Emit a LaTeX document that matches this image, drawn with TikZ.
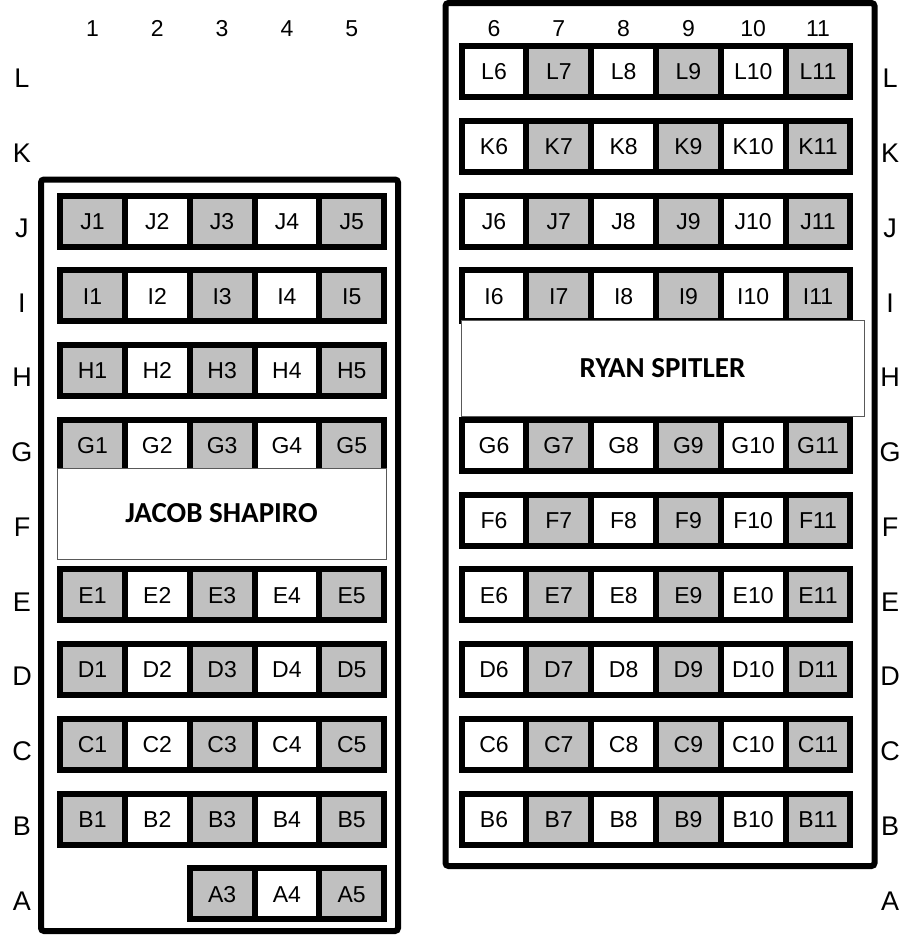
\documentclass[tikz,border=0pt]{standalone}
\usepackage{fontspec}
\setmainfont{Liberation Sans}
\newfontfamily\namefont{Carlito}
\usepackage{xcolor}
\definecolor{seatgray}{RGB}{192, 192, 192}
\usetikzlibrary{positioning}

\begin{document}
\begin{tikzpicture}[x=1pt, y=-1pt,
        seat/.style={rectangle, draw=black, line width=6pt, minimum width=64.8pt, minimum height=51pt, inner sep=0pt, text height=16.5pt, text depth=0pt, font=\fontsize{23}{23}\selectfont},
        section/.style={draw=black, line width=6pt, rounded corners=3pt},
        rowlabel/.style={inner sep=0pt, font=\fontsize{27}{27}\selectfont},
        collabel/.style={inner sep=0pt, font=\fontsize{23}{23}\selectfont},
        namebox/.style={rectangle, draw=black!65, fill=white, line width=1pt, inner sep=0pt, font=\namefont\bfseries\fontsize{29}{29}\selectfont}]

    \useasboundingbox (0,0) rectangle (908,940);

    % Secciones
    \draw[section] (41,179.5) rectangle (398,931);
    \draw[section] (445.5,3) rectangle (874.5,866);

    % Etiquetas de filas (izquierda y derecha)
    \foreach \r/\k in {L/0, K/1, J/2, I/3, H/4, G/5, F/6, E/7, D/8, C/9, B/10, A/11} {
        \node[rowlabel] (left\r) at (22, 78.5+74.75*\k) {\r};
        \node[rowlabel] (right\r) at (890, 78.5+74.75*\k) {\r};
    }

    % Etiquetas de columnas
    \foreach \c in {1,...,5}
        \node[collabel] (col\c) at (92.5+64.8*\c-64.8, 28.5) {\c};
    \foreach \c in {6,...,11}
        \node[collabel] (col\c) at (494+64.8*\c-388.8, 28.5) {\c};

    % Bloque izquierdo
    \foreach \r/\k in {J/2, I/3, H/4, G/5, E/7, D/8, C/9, B/10}
        \foreach \c/\f in {1/seatgray, 2/white, 3/seatgray, 4/white, 5/seatgray}
            \node[seat, fill=\f] (\r\c) at (92.5+64.8*\c-64.8, 71.5+74.75*\k) {\r\c};
    \foreach \c/\f in {3/seatgray, 4/white, 5/seatgray}
        \node[seat, fill=\f] (A\c) at (92.5+64.8*\c-64.8, 71.5+74.75*11) {A\c};

    % Bloque derecho
    \foreach \r/\k in {L/0, K/1, J/2, I/3, G/5, F/6, E/7, D/8, C/9, B/10}
        \foreach \c/\f in {6/white, 7/seatgray, 8/white, 9/seatgray, 10/white, 11/seatgray}
            \node[seat, fill=\f] (\r\c) at (494+64.8*\c-388.8, 71.5+74.75*\k) {\r\c};

    % Nombres
    \node[namebox, minimum width=329pt, minimum height=91pt] (jacob) at (221.5,513.5) {JACOB SHAPIRO};
    \node[namebox, minimum width=403pt, minimum height=96pt] (ryan) at (662.5,368) {RYAN SPITLER};
\end{tikzpicture}
\end{document}
